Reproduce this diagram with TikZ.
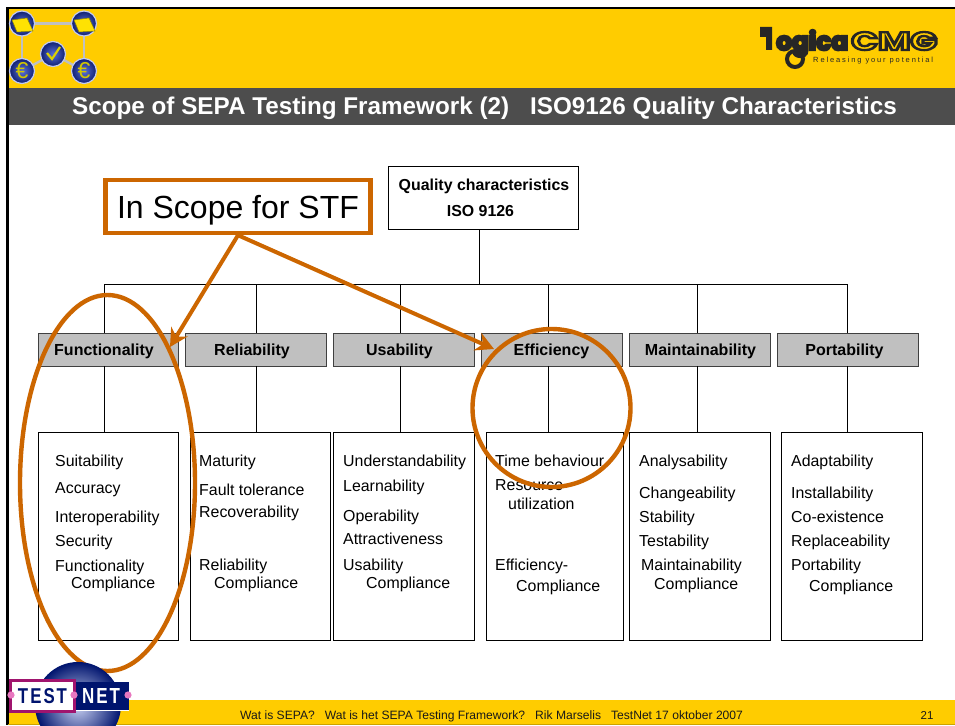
\documentclass[tikz,border=0pt]{standalone}
\usepackage{fontspec}
\setmainfont{Liberation Sans}
\newfontfamily\logofont{Poppins}
\usetikzlibrary{arrows.meta,shapes.geometric,calc}
\definecolor{barYellow}{HTML}{FFCC00}
\definecolor{barDark}{HTML}{4D4D4D}
\definecolor{grayb}{HTML}{C0C0C0}
\definecolor{orangel}{HTML}{CC6600}
\definecolor{ball}{HTML}{2F4DD0}
\definecolor{balld}{HTML}{101F70}
\definecolor{navy}{HTML}{00146E}
\definecolor{purp}{HTML}{A0146E}
\definecolor{pinkd}{HTML}{E878C0}
\tikzset{
  x=1pt,y=-1pt,
  catbox/.style={draw=black!75,line width=0.9pt,fill=grayb,minimum height=33pt,inner sep=0pt,text height=11.5pt,text depth=0pt,font=\bfseries\fontsize{16}{18}\selectfont,text=black},
  listbox/.style={draw=black,line width=0.8pt,fill=white,minimum height=208pt,inner sep=0pt},
  link/.style={draw=black,line width=0.8pt},
  item/.style={anchor=base west,inner sep=0pt,font=\fontsize{15.9}{18}\selectfont,text=black},
  orangeline/.style={draw=orangel,line width=4pt},
  ringy/.style={draw=orangel,line width=4.4pt},
  tip/.style={-{Stealth[length=18pt,width=19pt,inset=6pt]}},
  globe/.style={circle,minimum size=25pt,inner sep=0pt,draw=ball!30!white,line width=1.2pt,shade,inner color=ball!80!white,outer color=balld},
  net/.style={draw=grayb,line width=2.4pt},
}
\newcommand{\catitem}[3]{\node[item] at (#1,#2) {#3};}
\begin{document}
\begin{tikzpicture}
\useasboundingbox (0,0) rectangle (955,725);
\fill[white] (0,0) rectangle (955,725);
% bars
\fill[barYellow] (8,8) rectangle (955,88);
\fill[barDark] (8,88) rectangle (955,125);
\fill[barYellow] (8,700) rectangle (955,725);
\fill[black] (6,7) rectangle (955,9.5);
\fill[black] (6,7) rectangle (8.5,725);
\draw[barYellow!80!black,line width=1pt] (8,724.5) -- (955,724.5);
% title
\node[anchor=base,inner sep=0pt,text=white,font=\bfseries\fontsize{24.25}{26}\selectfont] (title) at (484.5,114) {Scope of SEPA Testing Framework (2)\hspace{21pt}ISO9126 Quality Characteristics};
% footer
\node[anchor=base west,inner sep=0pt,font=\fontsize{12.1}{13}\selectfont,text=black!90] (foot) at (240,719) {Wat is SEPA?\hspace{10pt}Wat is het SEPA Testing Framework?\hspace{10pt}Rik Marselis\hspace{10pt}TestNet 17 oktober 2007};
\node[anchor=base,inner sep=0pt,font=\fontsize{11.5}{13}\selectfont,text=black!90] (pg) at (927,719) {21};
% SEPA logo
\coordinate (n1) at (22,23.5);
\coordinate (n2) at (84,23.5);
\coordinate (n3) at (53,54);
\coordinate (n4) at (22,71);
\coordinate (n5) at (84,71);
\draw[net] (n1)--(n2); \draw[net] (n1)--(n4); \draw[net] (n2)--(n5); \draw[net] (n3)--(n4); \draw[net] (n3)--(n5);
\node[globe] (g1) at (n1) {};
\node[globe] (g2) at (n2) {};
\node[globe] (g3) at (n3) {};
\node[globe] (g4) at (n4) {};
\node[globe] (g5) at (n5) {};
\fill[yellow!85!orange,draw=olive,line width=.5pt] (12,20) -- (27,18) -- (33,31) -- (17,32) -- cycle;
\fill[yellow!85!orange,draw=olive,line width=.5pt] (74,20) -- (89,18) -- (95,31) -- (79,32) -- cycle;
\draw[yellow!70!olive,line width=2.2pt] (47,53) -- (52,59) -- (60,47);
\node[inner sep=0pt,text=yellow!60!olive,font=\fontsize{23}{23}\selectfont] (e1) at (22,71) {€};
\node[inner sep=0pt,text=yellow!60!olive,font=\fontsize{23}{23}\selectfont] (e2) at (84,71) {€};
% Logica logo
\fill[black!85] (760,27) -- (772,27) -- (772,50) -- (766,50) -- (766,37) -- (760,37) -- cycle;
\node[anchor=base west,inner sep=0pt,text=black!85] (logica) at (776,50) {\special{pdf:code q 2 Tr 1 w}\resizebox{72pt}{!}{\logofont\bfseries ogica}\special{pdf:code Q}};
\draw[black!85,line width=4pt] (795,59) circle (8);
\node[anchor=base west,inner sep=0pt,text=black!85] (cmg) at (851,50) {\special{pdf:code q 1 Tr 0.9 w}\resizebox{86pt}{18pt}{\logofont\bfseries CMG}\special{pdf:code Q}};
\node[anchor=base west,inner sep=0pt,font=\fontsize{7.5}{8}\selectfont,text=black!85] (rel) at (813,63) {\addfontfeature{LetterSpace=25}Releasing your potential};
% connectors
\node[draw=black,line width=0.8pt,fill=white,minimum width=190pt,minimum height=63pt,inner sep=0pt,align=center,font=\bfseries\fontsize{15.9}{26}\selectfont] (top) at (483,197.5) {\hspace*{2pt}Quality characteristics\\\hspace*{-5pt}ISO 9126};
\coordinate (hub) at (479,284);
\coordinate (hl) at (104,284);
\coordinate (hr) at (847,284);
\node[catbox,minimum width=140pt] (c1) at (108.5,349.5) {\hspace{-9pt}Functionality};
\node[catbox,minimum width=141pt] (c2) at (256,349.5) {\hspace{-8pt}Reliability};
\node[catbox,minimum width=141pt] (c3) at (404,349.5) {\hspace{-9pt}Usability};
\node[catbox,minimum width=141pt] (c4) at (552,349.5) {\hspace{-1pt}Efficiency};
\node[catbox,minimum width=141pt] (c5) at (700,349.5) {\hspace{1pt}Maintainability};
\node[catbox,minimum width=141pt] (c6) at (848,349.5) {\hspace{-7pt}Portability};
\node[listbox,minimum width=140pt] (l1) at (108.5,536.5) {};
\node[listbox,minimum width=140pt] (l2) at (260,536.5) {};
\node[listbox,minimum width=141pt] (l3) at (404,536.5) {};
\node[listbox,minimum width=137pt] (l4) at (554.5,536.5) {};
\node[listbox,minimum width=141pt] (l5) at (700,536.5) {};
\node[listbox,minimum width=141pt] (l6) at (852,536.5) {};
\draw[link] (top.south -| hub) -- (hub);
\draw[link] (hl) -- (hr);
\foreach \i/\x in {1/104,2/256,3/400,4/548,5/697,6/847}{
  \coordinate (v) at (\x,300);
  \draw[link] (v |- hub) -- (c\i.north -| v);
  \draw[link] (c\i.south -| v) -- (l\i.north -| v);
}
% list texts
\catitem{55}{466}{Suitability}
\catitem{55}{493}{Accuracy}
\catitem{55}{522}{Interoperability}
\catitem{55}{546}{Security}
\catitem{55}{571}{Functionality}
\catitem{71}{588}{Compliance}
\catitem{199}{466}{Maturity}
\catitem{199}{495}{Fault tolerance}
\catitem{199}{517}{Recoverability}
\catitem{199}{570}{Reliability}
\catitem{214}{588}{Compliance}
\catitem{343}{466}{Understandability}
\catitem{343}{491}{Learnability}
\catitem{343}{521}{Operability}
\catitem{343}{544}{Attractiveness}
\catitem{343}{570}{Usability}
\catitem{366}{588}{Compliance}
\catitem{495}{466}{Time behaviour}
\catitem{495}{490}{Resource}
\catitem{508}{509}{utilization}
\catitem{495}{570}{Efficiency-}
\catitem{516}{591}{Compliance}
\catitem{639}{466}{Analysability}
\catitem{639}{498}{Changeability}
\catitem{639}{522}{Stability}
\catitem{639}{546}{Testability}
\catitem{641}{570}{Maintainability}
\catitem{654}{589}{Compliance}
\catitem{791}{466}{Adaptability}
\catitem{791}{498}{Installability}
\catitem{791}{522}{Co-existence}
\catitem{791}{546}{Replaceability}
\catitem{791}{570}{Portability}
\catitem{809}{591}{Compliance}
% scope
\node[ringy,fill=white,minimum width=265pt,minimum height=53pt,inner sep=0pt,text height=23pt,text depth=0pt,font=\fontsize{32}{36}\selectfont] (scope) at (238,206.5) {In Scope for STF};
\node[ringy,ellipse,minimum width=175pt,minimum height=376pt,inner sep=0pt] (ringa) at (107.5,483) {};
\node[ringy,circle,minimum size=158pt,inner sep=0pt] (ringb) at (551.5,408) {};
\coordinate (ta) at (170,347);
\coordinate (tb) at (494,349);
\draw[orangeline,tip,fill=orangel] (scope.south) -- (ta);
\draw[orangeline,tip,fill=orangel] (scope.south) -- (tb);
% TestNet logo
\shade[inner color=ball!25!white,outer color=navy] (78,705) circle (43);
\fill[navy] (74,682) rectangle (129,710);
\fill[white] (74,709.5) rectangle (129,710.5);
\draw[purp,line width=3pt,fill=white] (10.5,680.5) rectangle (74,711.5);
\node[inner sep=0pt,text=navy] (tn1) at (42.5,696) {\resizebox{49pt}{15pt}{\bfseries\addfontfeature{LetterSpace=12}TEST}};
\node[inner sep=0pt,text=white] (tn2) at (101,696) {\resizebox{38pt}{15pt}{\bfseries\addfontfeature{LetterSpace=12}NET}};
\foreach \x in {11,74,128} \fill[pinkd] (\x,695) circle (3.6);
\end{tikzpicture}
\end{document}
